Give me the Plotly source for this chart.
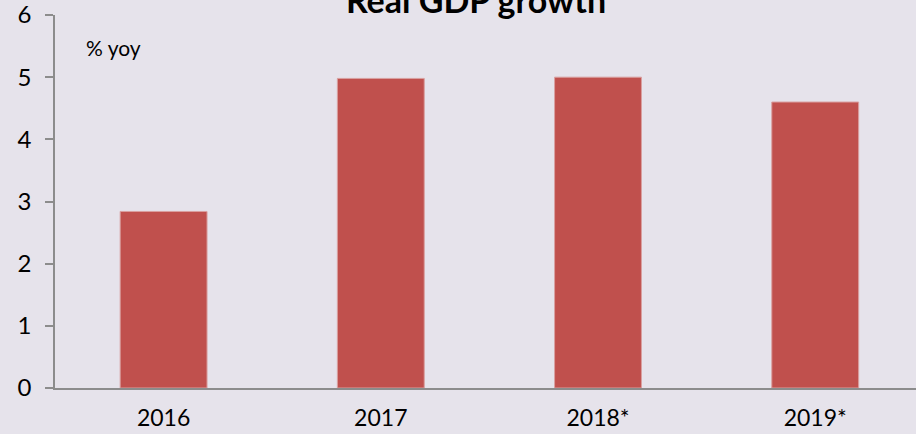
import plotly.graph_objects as go

# Real GDP growth, % year on year (* = forecast)
years = ["2016", "2017", "2018*", "2019*"]
growth = [2.84, 4.98, 5.00, 4.60]
y_ticks = [0, 1, 2, 3, 4, 5, 6]

BG = "#E6E3EB"
BAR = "#C0504D"
AXIS = "#8C8C8C"
FONT = "Lato"

W, H = 916, 434
L, T, B = 55, 15, 46

fig = go.Figure(
    go.Bar(
        x=years,
        y=growth,
        width=0.4,
        marker=dict(color=BAR, line=dict(color="#D9A0A0", width=1)),
        hoverinfo="x+y",
    )
)

fig.update_layout(
    width=W,
    height=H,
    margin=dict(l=L, r=0, t=T, b=B, pad=0),
    paper_bgcolor=BG,
    plot_bgcolor=BG,
    showlegend=False,
    font=dict(family=FONT, color="#000000"),
    title=dict(
        text="<b>Real GDP growth</b>",
        font=dict(family=FONT, size=34, color="#000000"),
        x=476 / W,
        xanchor="center",
        xref="container",
        y=1 - 1 / H,
        yanchor="middle",
        yref="container",
    ),
)

fig.update_xaxes(
    type="category",
    range=[-0.5, 3.464],
    automargin=False,
    showline=True,
    linecolor=AXIS,
    linewidth=1.5,
    showgrid=False,
    ticks="",
    tickfont=dict(family=FONT, size=23, color="#000000"),
    ticklabelstandoff=9,
    ticklabeloverflow="allow",
    fixedrange=True,
)

fig.update_yaxes(
    range=[0, 6],
    tickvals=y_ticks,
    automargin=False,
    showline=True,
    linecolor=AXIS,
    linewidth=1.5,
    showgrid=False,
    zeroline=False,
    ticks="outside",
    ticklen=8,
    tickwidth=1.5,
    tickcolor=AXIS,
    tickfont=dict(family=FONT, size=24, color="#000000"),
    ticklabelstandoff=9,
    ticklabeloverflow="allow",
    fixedrange=True,
)

fig.add_annotation(
    text="% yoy",
    xref="paper",
    x=(84 - L) / (W - L),
    xanchor="left",
    yref="y",
    y=5.47,
    yanchor="middle",
    showarrow=False,
    font=dict(family=FONT, size=21, color="#000000"),
)

fig.write_html("out.html")
